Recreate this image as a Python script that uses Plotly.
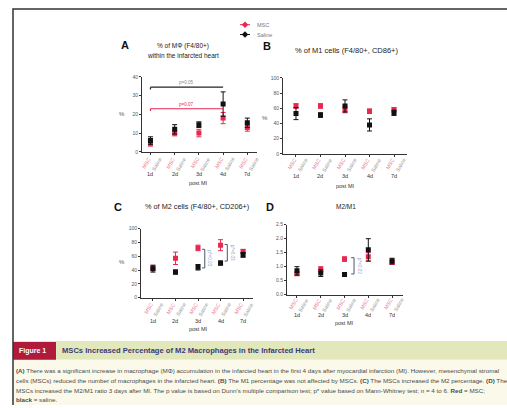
import plotly.graph_objects as go

W, H = 507, 408

# ---------------- data ----------------
days = ["1d", "2d", "3d", "4d", "7d"]
groups = ["MSC", "Saline"]

# Panel A: % of MΦ (F4/80+)
a_msc = [4.5, 10.0, 10.0, 18.0, 13.0]
a_msc_err = [1.5, 1.5, 2.0, 3.0, 2.0]
a_sal = [6.0, 12.0, 14.5, 25.5, 15.5]
a_sal_err = [2.0, 2.5, 1.5, 6.5, 2.5]

# Panel B: % of M1 cells
b_msc = [63, 63, 58, 56, 58]
b_msc_err = [3, 3, 4, 3, 3]
b_sal = [53, 51, 63, 38, 54]
b_sal_err = [8, 3, 8, 8, 3.5]

# Panel C: % of M2 cells
c_msc = [43, 57, 72, 76, 67]
c_msc_err = [3, 9, 4, 8, 3]
c_sal = [42, 37, 44, 50, 62]
c_sal_err = [5, 3, 4, 3, 3.5]

# Panel D: M2/M1
d_msc = [0.75, 0.90, 1.27, 1.35, 1.15]
d_msc_err = [0.05, 0.10, 0.08, 0.15, 0.07]
d_sal = [0.85, 0.77, 0.72, 1.60, 1.20]
d_sal_err = [0.15, 0.12, 0.06, 0.40, 0.10]

RED = "#e8284f"
BLK = "#111111"
FONT = "Liberation Sans, Arial, sans-serif"

def fx(p):
    return p / W

def fy(p):
    return 1 - p / H

annotations = []
shapes = []

def ann(x, y, text, size, color, xref="paper", yref="paper", xanchor="center", yanchor="middle", **kw):
    annotations.append(dict(x=x, y=y, xref=xref, yref=yref, text=text, showarrow=False,
                            xanchor=xanchor, yanchor=yanchor,
                            font=dict(size=size, color=color, family=FONT), **kw))

panels = [
    dict(L="A", msc=a_msc, me=a_msc_err, sal=a_sal, se=a_sal_err,
         xd=(142, 257), yd=(75, 151), xr=(-0.35, 4.4), yr=(0, 40), dt=10, fmt="",
         rot_y=162, day_y=174, post_y=183, pct=(122, 113),
         letter=(125, 43), title=["% of MΦ (F4/80+)", "within the infarcted heart"], tx=183, ty=(44, 53), ts=6.5),
    dict(L="B", msc=b_msc, me=b_msc_err, sal=b_sal, se=b_sal_err,
         xd=(283, 407), yd=(76, 153), xr=(-0.53, 4.53), yr=(0, 100), dt=20, fmt="",
         rot_y=163, day_y=176, post_y=186, pct=(265, 117),
         letter=(267, 44), title=["% of M1 cells (F4/80+, CD86+)"], tx=346, ty=(48,), ts=7.5),
    dict(L="C", msc=c_msc, me=c_msc_err, sal=c_sal, se=c_sal_err,
         xd=(141, 253), yd=(229, 299), xr=(-0.53, 4.44), yr=(0, 100), dt=20, fmt="",
         rot_y=310, day_y=323, post_y=331, pct=(122, 263),
         letter=(118, 207), title=["% of M2 cells (F4/80+, CD206+)"], tx=197, ty=(207,), ts=7.3),
    dict(L="D", msc=d_msc, me=d_msc_err, sal=d_sal, se=d_sal_err,
         xd=(287, 403), yd=(225, 296), xr=(-0.42, 4.46), yr=(0, 2.5), dt=0.5, fmt=".1f",
         rot_y=305, day_y=317, post_y=325, pct=None,
         letter=(270, 207), title=["M2/M1"], tx=346, ty=(207,), ts=6.5),
]

fig = go.Figure()

# background pieces (frame + caption)
shapes.append(dict(type="rect", xref="paper", yref="paper", x0=fx(13), x1=1, y0=fy(362), y1=fy(343),
                   fillcolor="#e2e8bb", line=dict(width=0), layer="below"))
shapes.append(dict(type="rect", xref="paper", yref="paper", x0=fx(13), x1=1, y0=0, y1=fy(362),
                   fillcolor="#fbfaea", line=dict(width=0), layer="below"))
shapes.append(dict(type="rect", xref="paper", yref="paper", x0=fx(13), x1=fx(56), y0=fy(362), y1=fy(344),
                   fillcolor="#b01b3b", line=dict(width=0), layer="below"))
shapes.append(dict(type="path", xref="paper", yref="paper",
                   path=f"M {fx(13)},0 L {fx(13)},{fy(6)} L 1,{fy(6)}",
                   line=dict(color="#333333", width=1.5)))

for i, p in enumerate(panels):
    s = "" if i == 0 else str(i + 1)
    xa, ya = "x" + s, "y" + s
    xs = list(range(len(days)))
    fig.add_trace(go.Scatter(x=xs, y=p["msc"], mode="markers", xaxis=xa, yaxis=ya,
                             marker=dict(symbol="square", size=5, color=RED),
                             error_y=dict(type="data", array=p["me"], color=RED, thickness=1, width=2.5),
                             showlegend=False, name=groups[0]))
    fig.add_trace(go.Scatter(x=xs, y=p["sal"], mode="markers", xaxis=xa, yaxis=ya,
                             marker=dict(symbol="square", size=5, color=BLK),
                             error_y=dict(type="data", array=p["se"], color=BLK, thickness=1, width=2.5),
                             showlegend=False, name=groups[1]))
    fig.layout["xaxis" + s] = dict(domain=[fx(p["xd"][0]), fx(p["xd"][1])], range=list(p["xr"]),
                                   anchor=ya, showgrid=False, zeroline=False, showline=True,
                                   linecolor="#333", linewidth=1, ticks="outside", ticklen=2,
                                   tickcolor="#333", tickvals=xs, showticklabels=False)
    fig.layout["yaxis" + s] = dict(domain=[fy(p["yd"][1]), fy(p["yd"][0])], range=list(p["yr"]),
                                   anchor=xa, showgrid=False, zeroline=False, showline=True,
                                   linecolor="#333", linewidth=1, ticks="outside", ticklen=2,
                                   tickcolor="#333", dtick=p["dt"], tickformat=p["fmt"],
                                   tickfont=dict(size=5, color="#555", family=FONT))
    # rotated group labels and day labels
    for k, d in enumerate(days):
        ann(k - 0.18, fy(p["rot_y"]), groups[0], 5.2, "#e87a92", xref=xa, textangle=-60)
        ann(k + 0.25, fy(p["rot_y"] + 1), groups[1], 5.2, "#999999", xref=xa, textangle=-60)
        ann(k, fy(p["day_y"]), d, 5.5, "#333333", xref=xa)
    ann(2, fy(p["post_y"]), "post MI", 5.5, "#333333", xref=xa)
    if p["pct"]:
        ann(fx(p["pct"][0]), fy(p["pct"][1]), "%", 6, "#555555")
    ann(fx(p["letter"][0]), fy(p["letter"][1]), "<b>" + p["L"] + "</b>", 11, "#111111")
    for t, yy in zip(p["title"], p["ty"]):
        ann(fx(p["tx"]), fy(yy), t, p["ts"], "#222222")

# significance lines, panel A
sig_a = [(34.5, "p=0.05", "#222222", "#888888"), (23, "p=0.07", RED, RED)]
for yv, txt, lc, tc in sig_a:
    shapes.append(dict(type="line", xref="x", yref="y", x0=0, x1=3, y0=yv, y1=yv, line=dict(color=lc, width=1.2)))
    shapes.append(dict(type="line", xref="x", yref="y", x0=0, x1=0, y0=yv, y1=yv - 1.2, line=dict(color=lc, width=1.2)))
    ann(1.45, yv + 2.3, txt, 4.5, tc, xref="x", yref="y")

# brackets (C: 3d, 4d; D: 3d)
brackets = [("x3", "y3", 2.3, 70, 43, "p*=0.03"), ("x3", "y3", 3.3, 77, 53, "p*=0.03"),
            ("x4", "y4", 2.4, 1.32, 0.74, "p*=0.03")]
for xa, ya, xb, ytop, ybot, txt in brackets:
    shapes.append(dict(type="path", xref=xa, yref=ya,
                       path=f"M {xb-0.12},{ytop} L {xb},{ytop} L {xb},{ybot} L {xb-0.12},{ybot}",
                       line=dict(color="#4d5570", width=1)))
    ann(xb + 0.2, (ytop + ybot) / 2, txt, 4.5, "#8a98c4", xref=xa, yref=ya, textangle=90)

# legend (manual, on a full-figure overlay axis)
for g, c, yy in zip(groups, [RED, BLK], [22, 32]):
    fig.add_trace(go.Scatter(x=[240, 250], y=[yy, yy], mode="lines", line=dict(color=c, width=1),
                             xaxis="x5", yaxis="y5", showlegend=False, hoverinfo="skip"))
    fig.add_trace(go.Scatter(x=[245], y=[yy], mode="markers", marker=dict(symbol="diamond", size=5, color=c),
                             xaxis="x5", yaxis="y5", showlegend=False, hoverinfo="skip"))
    ann(fx(255), fy(yy), g, 5.5, "#777777", xanchor="left")
fig.layout["xaxis5"] = dict(domain=[0, 1], range=[0, W], visible=False, fixedrange=True)
fig.layout["yaxis5"] = dict(domain=[0, 1], range=[H, 0], visible=False, fixedrange=True)

# caption
ann(fx(17), fy(353), "<b>Figure 1</b>", 7, "white", xanchor="left")
ann(fx(60), fy(353), "<b>MSCs Increased Percentage of M2 Macrophages in the Infarcted Heart</b>",
    7.6, "#3b3a78", xanchor="left")
caption = [
    "<b>(A)</b> There was a significant increase in macrophage (MΦ) accumulation in the infarcted heart in the first 4 days after myocardial infarction (MI). However, mesenchymal stromal",
    "cells (MSCs) reduced the number of macrophages in the infarcted heart. <b>(B)</b> The M1 percentage was not affected by MSCs. <b>(C)</b> The MSCs increased the M2 percentage. <b>(D)</b> The",
    "MSCs increased the M2/M1 ratio 3 days after MI. The p value is based on Dunn's multiple comparison test; p* value based on Mann-Whitney test; n = 4 to 6. <b>Red</b> = MSC;",
    "<b>black</b> = saline.",
]
for line, yy in zip(caption, [373, 383, 393, 402]):
    ann(fx(14), fy(yy), line, 6.25, "#4a4a4a", xanchor="left")

fig.update_layout(width=W, height=H, margin=dict(l=0, r=0, t=0, b=0), paper_bgcolor="white",
                  plot_bgcolor="rgba(0,0,0,0)", annotations=annotations, shapes=shapes,
                  showlegend=False, font=dict(family=FONT))
fig.write_html("out.html", config={"displayModeBar": False},
               post_script="document.body.style.margin='0';document.body.style.overflow='hidden';")
